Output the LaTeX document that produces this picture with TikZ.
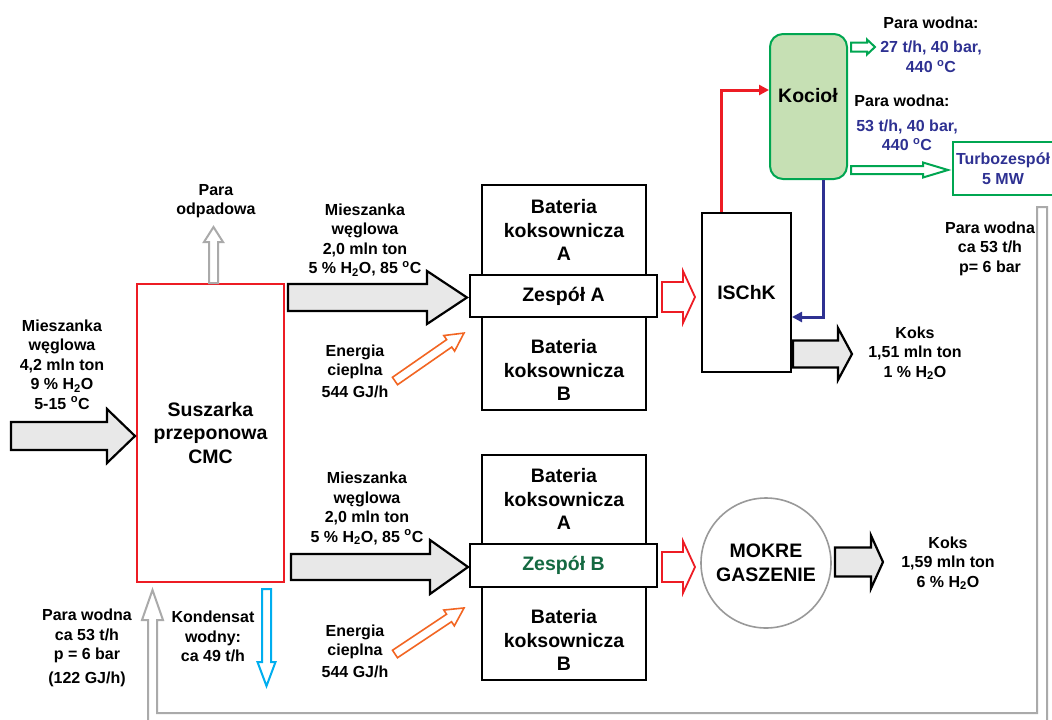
\documentclass[tikz,border=0pt]{standalone}
\usepackage{fontspec}
\setmainfont{Liberation Sans}
\usetikzlibrary{arrows.meta}
\definecolor{cred}{RGB}{237,28,36}
\definecolor{cblue}{RGB}{46,49,146}
\definecolor{cgreen}{RGB}{0,166,81}
\definecolor{cgfill}{RGB}{198,224,180}
\definecolor{cdgreen}{RGB}{20,105,65}
\definecolor{corange}{RGB}{242,101,34}
\definecolor{ccyan}{RGB}{0,174,239}
\definecolor{cgray}{RGB}{170,170,170}
\definecolor{cfill}{RGB}{232,232,232}
\tikzset{
  lbl/.style={font=\fontsize{16}{19.5}\selectfont\bfseries, align=center, inner sep=0pt},
  bigtxt/.style={font=\fontsize{19.5}{23.5}\selectfont\bfseries, align=center, inner sep=0pt},
  blackbox/.style={draw=black, line width=2pt, inner sep=0pt},
  bigarrow/.style={draw=black, line width=2.2pt, fill=cfill, line join=miter},
  redarrow/.style={draw=cred, line width=1.8pt, fill=white, line join=miter},
  orangearrow/.style={draw=corange, line width=1.6pt, fill=white, line join=miter},
  grayarrow/.style={draw=cgray, line width=2pt, fill=white, line join=miter},
  cyanarrow/.style={draw=ccyan, line width=2pt, fill=white, line join=miter},
  greenarrow/.style={draw=cgreen, line width=2pt, fill=white, line join=miter},
  redline/.style={draw=cred, line width=3pt, -{Triangle[length=10pt,width=10pt]}},
  blueline/.style={draw=cblue, line width=3pt, -{Triangle[length=10pt,width=10pt]}},
}
% #1 style, #2 x, #3 y, #4 angle, #5 length, #6 head length, #7 shaft half width, #8 head half width
\newcommand{\BArrow}[8]{%
  \begin{scope}[shift={(#2,#3)},rotate=#4]
    \draw[#1] (0,-#7) -- ({#5-#6},-#7) -- ({#5-#6},-#8) -- (#5,0) -- ({#5-#6},#8) -- ({#5-#6},#7) -- (0,#7) -- cycle;
  \end{scope}}
\newcommand{\degC}{\textsuperscript{o}C}
\newcommand{\water}{H\textsubscript{2}O}
\begin{document}
\begin{tikzpicture}[x=1pt,y=-1pt]
\useasboundingbox (0,0) rectangle (1052,720);

% steam return pipe
\draw[grayarrow] (157,620) -- (163,620) -- (152.5,590) -- (142,620) -- (148,620) -- (148,725)
  -- (1047,725) -- (1047,207) -- (1037,207) -- (1037,713) -- (157,713) -- cycle;

% main nodes
\node[draw=cred, line width=1.6pt, minimum width=147pt, minimum height=298pt, bigtxt] (susz) at (210.5,433) {Suszarka\\przeponowa\\CMC};

\node[blackbox, minimum width=164pt, minimum height=225pt] (batA) at (564,297.5) {};
\node[bigtxt] (batAtop) at (564,230) {Bateria\\koksownicza\\A};
\node[bigtxt] (batAbot) at (564,370) {Bateria\\koksownicza\\B};
\node[blackbox, fill=white, minimum width=187pt, minimum height=42pt, bigtxt] (zespA) at (563.5,296) {Zespół A};

\node[blackbox, minimum width=164pt, minimum height=225pt] (batB) at (564,567.5) {};
\node[bigtxt] (batBtop) at (564,499) {Bateria\\koksownicza\\A};
\node[bigtxt] (batBbot) at (564,640) {Bateria\\koksownicza\\B};
\node[blackbox, fill=white, minimum width=187pt, minimum height=43pt, bigtxt, text=cdgreen] (zespB) at (563.5,565.5) {Zespół B};

\node[blackbox, minimum width=89pt, minimum height=159pt, bigtxt] (ischk) at (746.5,292.5) {ISChK};

\node[draw=cgreen, fill=cgfill, line width=2pt, rounded corners=13pt, minimum width=77pt, minimum height=145pt, inner sep=0pt] (kociol) at (808.5,106.5) {};
\node[bigtxt] (kociolt) at (808,96) {Kocioł};

\node[draw=cgreen, line width=2pt, minimum width=100pt, minimum height=53pt, lbl, text=cblue] (turbo) at (1003,168.5) {Turbozespół\\5 MW};

\node[circle, draw=cgray!90!black, line width=1.6pt, minimum size=130pt, inner sep=0pt, bigtxt] (mokre) at (766,563) {MOKRE\\GASZENIE};

% thin connectors
\draw[redline] ([xshift=20pt]ischk.north west) |- ([yshift=16.5pt]kociol.west);
\draw[blueline] ([xshift=14.5pt]kociol.south) |- ([yshift=-24.5pt]ischk.east);

% block arrows
\BArrow{bigarrow}{11}{436}{0}{124}{28}{14}{27}
\BArrow{bigarrow}{288}{297.5}{0}{179}{40}{13.5}{26.5}
\BArrow{bigarrow}{291}{567}{0}{177}{38}{13}{27}
\BArrow{bigarrow}{793}{354}{0}{59}{14}{13.5}{26}
\BArrow{bigarrow}{835}{562}{0}{48}{12}{14.5}{26.5}
\BArrow{redarrow}{662}{297}{0}{33}{12}{15}{26}
\BArrow{redarrow}{662}{567}{0}{33}{12}{15}{26}
\BArrow{orangearrow}{395}{381}{34.8}{84}{18}{4.5}{9.5}
\BArrow{orangearrow}{395}{654}{33.7}{83}{18}{4.5}{9.5}
\BArrow{grayarrow}{213.5}{283}{90}{56}{15}{4.5}{9.5}
\BArrow{cyanarrow}{266.5}{589}{-90}{97}{24}{4.5}{9}
\BArrow{greenarrow}{851}{47}{0}{24}{8}{4.5}{7.5}
\BArrow{greenarrow}{851}{170}{0}{97}{25}{4}{7.5}

% labels
\node[lbl] (l1) at (62,364.5) {Mieszanka\\węglowa\\4,2 mln ton\\9 \% \water\\5-15 \degC};
\node[lbl] (l2) at (365,240) {Mieszanka\\węglowa\\2,0 mln ton\\5 \% \water, 85 \degC};
\node[lbl] (l3) at (367,508.5) {Mieszanka\\węglowa\\2,0 mln ton\\5 \% \water, 85 \degC};
\node[lbl] (l4) at (355,371) {Energia\\cieplna\\[2pt]544 GJ/h};
\node[lbl] (l5) at (355,651) {Energia\\cieplna\\[2pt]544 GJ/h};
\node[lbl] (l6) at (216,201) {Para\\odpadowa};
\node[lbl] (l7) at (213,636.5) {Kondensat\\wodny:\\ca 49 t/h};
\node[lbl] (l8) at (87,648) {Para wodna\\ca 53 t/h\\p = 6 bar\\[4pt](122 GJ/h)};
\node[lbl] (l9) at (915,353) {Koks\\1,51 mln ton\\1 \% \water};
\node[lbl] (l10) at (948,563) {Koks\\1,59 mln ton\\6 \% \water};
\node[lbl] (l11) at (990,248.5) {Para wodna\\ca 53 t/h\\p= 6 bar};
\node[lbl] (l12) at (931,23) {Para wodna:};
\node[lbl, text=cblue] (l13) at (931,57) {27 t/h, 40 bar,\\440 \degC};
\node[lbl] (l14) at (902,101) {Para wodna:};
\node[lbl, text=cblue] (l15) at (907,135.5) {53 t/h, 40 bar,\\440 \degC};
\end{tikzpicture}
\end{document}
